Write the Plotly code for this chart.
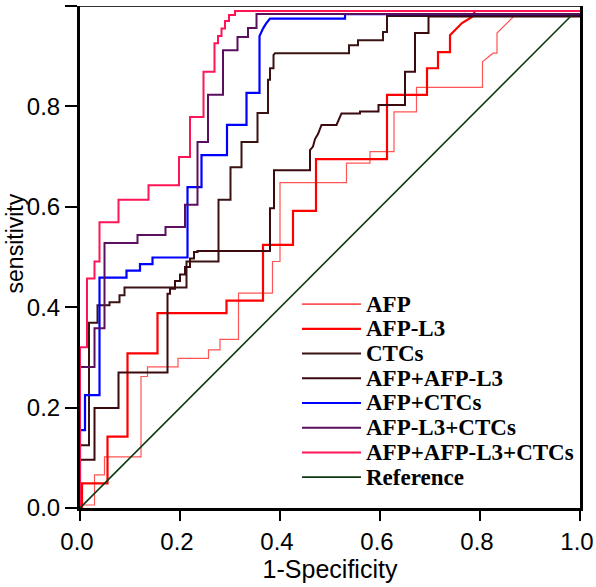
import plotly.graph_objects as go

# ---- data: ROC curve step points (1-specificity, sensitivity) ----
series_names = ["AFP", "AFP-L3", "CTCs", "AFP+AFP-L3", "AFP+CTCs",
                "AFP-L3+CTCs", "AFP+AFP-L3+CTCs", "Reference"]

afp = [(0, 0), (0, 0.006), (0.029, 0.006), (0.029, 0.066), (0.049, 0.066),
       (0.049, 0.102), (0.122, 0.102), (0.122, 0.262), (0.135, 0.262),
       (0.135, 0.281), (0.196, 0.281), (0.196, 0.298), (0.257, 0.298),
       (0.257, 0.315), (0.28, 0.315), (0.28, 0.336), (0.317, 0.336),
       (0.317, 0.428), (0.385, 0.428), (0.385, 0.491), (0.40, 0.491),
       (0.40, 0.648), (0.533, 0.648), (0.533, 0.687), (0.58, 0.687),
       (0.58, 0.71), (0.628, 0.71), (0.628, 0.789), (0.673, 0.789),
       (0.673, 0.838), (0.805, 0.838), (0.805, 0.889), (0.826, 0.906),
       (0.834, 0.906), (0.834, 0.946), (0.87, 0.982), (1.0, 0.985)]

afp_l3 = [(0, 0), (0.004, 0), (0.004, 0.049), (0.055, 0.049), (0.055, 0.142),
          (0.095, 0.142), (0.095, 0.308), (0.155, 0.308), (0.155, 0.388),
          (0.293, 0.388), (0.293, 0.413), (0.366, 0.413), (0.366, 0.524),
          (0.426, 0.524), (0.426, 0.592), (0.472, 0.592), (0.472, 0.695),
          (0.614, 0.695), (0.614, 0.823), (0.694, 0.823), (0.694, 0.876),
          (0.716, 0.876), (0.716, 0.908), (0.74, 0.908), (0.74, 0.942),
          (0.752, 0.955), (0.764, 0.966), (0.784, 0.978), (0.79, 0.99),
          (1.0, 0.99)]

ctcs = [(0, 0), (0, 0.125), (0.018, 0.125), (0.018, 0.369), (0.035, 0.369),
        (0.035, 0.404), (0.059, 0.404), (0.059, 0.41), (0.079, 0.41),
        (0.079, 0.424), (0.089, 0.424), (0.089, 0.439), (0.213, 0.439),
        (0.213, 0.491), (0.277, 0.491), (0.277, 0.614), (0.301, 0.614),
        (0.301, 0.679), (0.323, 0.679), (0.323, 0.729), (0.355, 0.729),
        (0.355, 0.787), (0.376, 0.787), (0.376, 0.853), (0.38, 0.853),
        (0.38, 0.876), (0.387, 0.876), (0.387, 0.902), (0.39, 0.906),
        (0.538, 0.906), (0.538, 0.922), (0.556, 0.922), (0.556, 0.932),
        (0.606, 0.932), (0.606, 0.948), (0.614, 0.948), (0.614, 0.98),
        (1.0, 0.98)]

afp_afpl3 = [(0, 0), (0, 0.096), (0.029, 0.096), (0.029, 0.199), (0.077, 0.199),
             (0.077, 0.27), (0.175, 0.27), (0.175, 0.427), (0.18, 0.427),
             (0.18, 0.437), (0.19, 0.437), (0.19, 0.452), (0.2, 0.452),
             (0.2, 0.465), (0.21, 0.465), (0.21, 0.48), (0.22, 0.48),
             (0.22, 0.497), (0.228, 0.497), (0.228, 0.51), (0.235, 0.51),
             (0.235, 0.512), (0.38, 0.512), (0.38, 0.597), (0.388, 0.597),
             (0.388, 0.673), (0.46, 0.673), (0.46, 0.713), (0.466, 0.72),
             (0.47, 0.735), (0.476, 0.745), (0.483, 0.763), (0.513, 0.763),
             (0.518, 0.775), (0.523, 0.786), (0.56, 0.786), (0.56, 0.79),
             (0.597, 0.79), (0.597, 0.803), (0.65, 0.803), (0.65, 0.869),
             (0.67, 0.869), (0.67, 0.946), (0.697, 0.946), (0.697, 0.979),
             (1.0, 0.979)]

afp_ctcs = [(0, 0), (0, 0.155), (0.01, 0.155), (0.01, 0.225), (0.039, 0.225),
            (0.039, 0.459), (0.093, 0.459), (0.093, 0.473), (0.12, 0.473),
            (0.12, 0.486), (0.145, 0.486), (0.145, 0.499), (0.215, 0.499),
            (0.215, 0.639), (0.243, 0.639), (0.243, 0.703), (0.294, 0.703),
            (0.294, 0.763), (0.333, 0.763), (0.333, 0.827), (0.359, 0.827),
            (0.359, 0.94), (0.366, 0.955), (0.372, 0.965), (0.38, 0.975),
            (0.53, 0.975), (0.53, 0.984), (1.0, 0.984)]

afpl3_ctcs = [(0, 0), (0, 0.281), (0.029, 0.281), (0.029, 0.358), (0.049, 0.358),
              (0.049, 0.528), (0.115, 0.528), (0.115, 0.544), (0.171, 0.544),
              (0.171, 0.56), (0.21, 0.56), (0.21, 0.604), (0.235, 0.604),
              (0.235, 0.729), (0.256, 0.729), (0.256, 0.823), (0.286, 0.823),
              (0.286, 0.912), (0.315, 0.912), (0.315, 0.938), (0.336, 0.938),
              (0.336, 0.956), (0.353, 0.956), (0.353, 0.984), (1.0, 0.984)]

all_three = [(0, 0), (0, 0.32), (0.014, 0.32), (0.014, 0.457), (0.029, 0.457),
             (0.029, 0.491), (0.039, 0.491), (0.039, 0.569), (0.077, 0.569),
             (0.077, 0.614), (0.137, 0.614), (0.137, 0.643), (0.198, 0.643),
             (0.198, 0.699), (0.22, 0.699), (0.22, 0.779), (0.247, 0.779),
             (0.247, 0.869), (0.269, 0.869), (0.269, 0.926), (0.276, 0.926),
             (0.276, 0.94), (0.283, 0.94), (0.283, 0.955), (0.29, 0.955),
             (0.29, 0.97), (0.298, 0.97), (0.298, 0.982), (0.31, 0.982),
             (0.31, 0.99), (1.0, 0.99)]

reference = [(0, 0), (0.986, 0.984)]

tick_vals = [0.0, 0.2, 0.4, 0.6, 0.8, 1.0]
tick_text = ["0.0", "0.2", "0.4", "0.6", "0.8", "1.0"]

# ---- styles ----
curves = [afp, afp_l3, ctcs, afp_afpl3, afp_ctcs, afpl3_ctcs, all_three, reference]
colors = ["#FF5555", "#FF0000", "#3A1212", "#3A0A0E", "#0000FF",
          "#5A0E5E", "#FF1455", "#0E3A12"]
widths = [1.2, 2.2, 2.0, 2.0, 2.2, 2.0, 2.0, 1.6]

fig = go.Figure()
for name, pts, c, w in zip(series_names, curves, colors, widths):
    xs = [p[0] for p in pts]
    ys = [p[1] for p in pts]
    fig.add_trace(go.Scatter(x=xs, y=ys, mode="lines", name=name,
                             line=dict(color=c, width=w), showlegend=False))

# ---- legend drawn inside the plot ----
leg_y0 = 0.406
leg_step = 0.0492
for i, (name, c, w) in enumerate(zip(series_names, colors, widths)):
    yy = leg_y0 - i * leg_step
    fig.add_shape(type="line", xref="x", yref="y", x0=0.444, x1=0.562,
                  y0=yy, y1=yy, line=dict(color=c, width=max(w, 1.8)))
    fig.add_annotation(x=0.568, y=yy, xref="x", yref="y", text=name,
                       showarrow=False, xanchor="left", yanchor="middle",
                       font=dict(family="Liberation Serif", size=23,
                                 color="black", weight="bold"))

# top border
fig.add_shape(type="line", xref="x", yref="y", x0=0, x1=1, y0=1, y1=1,
              line=dict(color="#333333", width=2))

# y-axis title (placed slightly above centre as in the original)
fig.add_annotation(x=0, y=0.527, xref="paper", yref="paper", text="sensitivity",
                   textangle=-90, showarrow=False, xanchor="center",
                   yanchor="middle", xshift=-65,
                   font=dict(family="Liberation Sans, Arial", size=23, color="black"))

axis_font = dict(family="Liberation Sans, Arial", size=24, color="black")
title_font = dict(family="Liberation Sans, Arial", size=25, color="black")
fig.update_layout(
    width=596, height=587,
    margin=dict(l=80, r=16, t=6, b=79),
    paper_bgcolor="white", plot_bgcolor="white",
    xaxis=dict(range=[0, 1], tickvals=tick_vals, ticktext=tick_text,
               automargin=False,
               showgrid=False, zeroline=False, showline=True, linecolor="black",
               linewidth=3, ticks="outside", ticklen=10, tickwidth=2,
               tickcolor="black", tickfont=axis_font, ticklabelshift=-3,
               title=dict(text="1-Specificity", font=title_font, standoff=6)),
    yaxis=dict(range=[0, 1], tickvals=tick_vals, ticktext=tick_text,
               automargin=False,
               showgrid=False, zeroline=False, showline=True, linecolor="black",
               linewidth=3, mirror=True, ticks="outside", ticklen=12, tickwidth=2,
               tickcolor="black", tickfont=axis_font),
)

fig.write_html("out.html", config={"displayModeBar": False},
               post_script="document.body.style.margin='0';")
